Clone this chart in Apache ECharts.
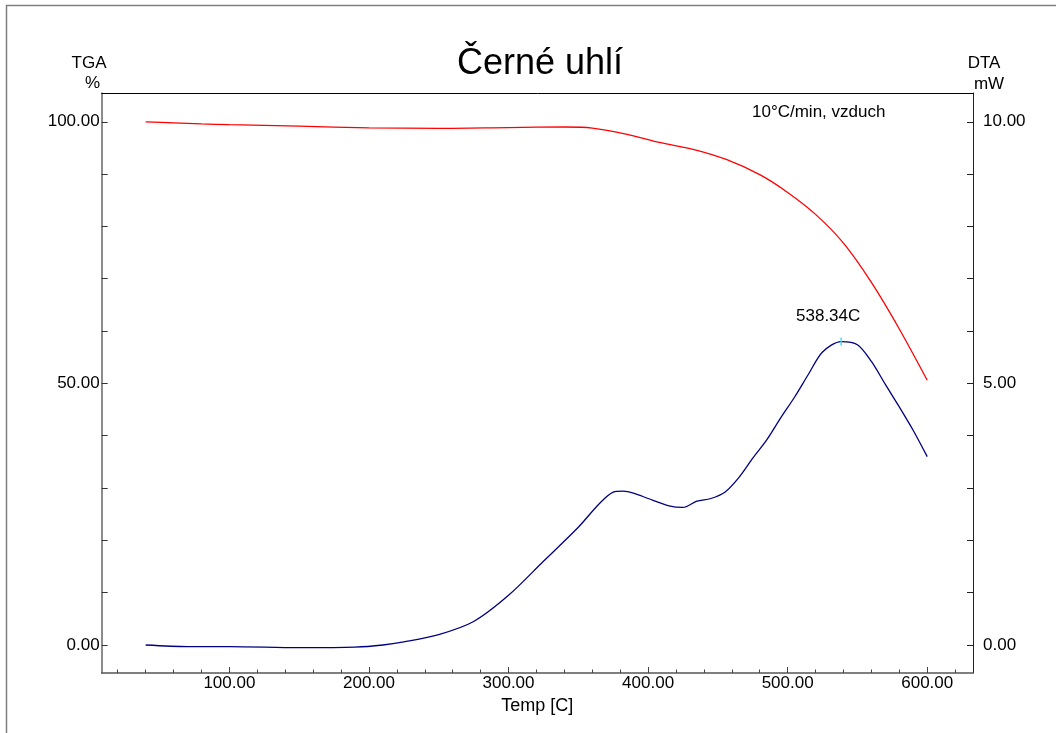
<!DOCTYPE html>
<html>
<head>
<meta charset="utf-8">
<title>Černé uhlí – TGA / DTA</title>
<script src="https://cdn.jsdelivr.net/npm/echarts@6/dist/echarts.min.js"></script>
<style>
  html, body { margin: 0; padding: 0; background: #fff; }
  #chart { width: 1056px; height: 733px; }
</style>
</head>
<body>
<div id="chart"></div>
<script>
// Thermogravimetry (red, %) and differential thermal analysis (blue, mW) vs temperature
var tgaTemp  = [40, 60, 80, 100, 150, 200, 250, 300, 340, 360, 385, 409, 433, 456, 480, 500, 520, 540, 560, 580, 600];
var tgaValue = [100.0, 99.8, 99.6, 99.45, 99.15, 98.85, 98.75, 98.9, 99.0, 98.8, 97.6, 96.0, 94.7, 92.8, 89.9, 86.5, 82.3, 76.8, 69.3, 60.4, 50.6];

var dtaTemp  = [40, 70, 100, 150, 190, 210, 225, 250, 275, 300, 325, 350, 365, 375, 382, 390, 400, 415, 425, 435, 445, 455, 465, 475, 485, 495, 505, 515, 525, 538.34, 550, 560, 570, 580, 590, 600];
var dtaValue = [0.0, -0.03, -0.03, -0.05, -0.04, 0.0, 0.06, 0.2, 0.45, 0.95, 1.6, 2.25, 2.7, 2.92, 2.94, 2.9, 2.8, 2.66, 2.63, 2.75, 2.8, 2.92, 3.2, 3.57, 3.92, 4.34, 4.74, 5.18, 5.6, 5.8, 5.74, 5.42, 4.98, 4.55, 4.1, 3.6];

// DTA peak
var peakTemp = 538.34;
var peakValue = 5.8;
var peakLabel = '538.34C';

// Tick positions and labels
var xMajorTicks = [100, 200, 300, 400, 500, 600];
var xMinorTicks = [20, 40, 60, 80, 100, 120, 140, 160, 180, 200, 220, 240, 260, 280, 300, 320, 340, 360, 380, 400, 420, 440, 460, 480, 500, 520, 540, 560, 580, 600, 620];
var tgaLabelTicks = [0, 50, 100];
var tgaTicks = [0, 10, 20, 30, 40, 50, 60, 70, 80, 90, 100];
var dtaLabelTicks = [0, 5, 10];
var dtaTicks = [0, 1, 2, 3, 4, 5, 6, 7, 8, 9, 10];

var FONT = 'Liberation Sans, Arial, sans-serif';

function pairs(xs, ys) {
  return xs.map(function (x, i) { return [x, ys[i]]; });
}
function fmt2(v) { return Number(v).toFixed(2); }

var chart = echarts.init(document.getElementById('chart'), null, { renderer: 'canvas' });

var X_MIN = 8.5, X_MAX = 632.8;

chart.setOption({
  animation: false,
  backgroundColor: '#ffffff',
  textStyle: { fontFamily: FONT },
  grid: {
    left: 101.7, right: 83, top: 93, bottom: 60,
    containLabel: false,
    outerBoundsMode: 'none'
  },
  graphic: [
    {
      type: 'rect', silent: true, z: 0,
      shape: { x: 6.5, y: 5.5, width: 1100, height: 800 },
      style: { fill: 'none', stroke: '#7f7f7f', lineWidth: 1.5 }
    },
    {
      type: 'text', x: 540, y: 64, silent: true,
      style: { text: 'Černé uhlí', font: '36px ' + FONT, fill: '#000', align: 'center', verticalAlign: 'middle' }
    },
    {
      type: 'text', x: 89, y: 63, silent: true,
      style: { text: 'TGA', font: '17px ' + FONT, fill: '#000', align: 'center', verticalAlign: 'middle' }
    },
    {
      type: 'text', x: 92.5, y: 83, silent: true,
      style: { text: '%', font: '17px ' + FONT, fill: '#000', align: 'center', verticalAlign: 'middle' }
    },
    {
      type: 'text', x: 984, y: 63, silent: true,
      style: { text: 'DTA', font: '17px ' + FONT, fill: '#000', align: 'center', verticalAlign: 'middle' }
    },
    {
      type: 'text', x: 989, y: 84, silent: true,
      style: { text: 'mW', font: '17px ' + FONT, fill: '#000', align: 'center', verticalAlign: 'middle' }
    },
    {
      type: 'text', x: 752, y: 112, silent: true,
      style: { text: '10°C/min, vzduch', font: '17px ' + FONT, fill: '#000', align: 'left', verticalAlign: 'middle' }
    }
  ],
  xAxis: [
    {
      type: 'value', position: 'bottom', min: X_MIN, max: X_MAX,
      axisLine: { show: true, onZero: false, lineStyle: { color: '#555', width: 1.5 } },
      axisTick: { show: true, inside: true, length: 6, customValues: xMajorTicks, lineStyle: { color: '#444', width: 1 } },
      axisLabel: { show: true, customValues: xMajorTicks, formatter: fmt2, margin: 2, fontSize: 17, color: '#000', fontFamily: FONT },
      splitLine: { show: false },
      name: 'Temp [C]', nameLocation: 'middle', nameGap: 20,
      nameTextStyle: { fontSize: 18, color: '#000', fontFamily: FONT }
    },
    {
      type: 'value', position: 'bottom', min: X_MIN, max: X_MAX,
      axisLine: { show: false, onZero: false },
      axisTick: { show: true, inside: true, length: 3.5, customValues: xMinorTicks, lineStyle: { color: '#444', width: 1 } },
      axisLabel: { show: false },
      splitLine: { show: false }
    },
    {
      type: 'value', position: 'top', min: X_MIN, max: X_MAX,
      axisLine: { show: true, onZero: false, lineStyle: { color: '#000', width: 1 } },
      axisTick: { show: false },
      axisLabel: { show: false },
      splitLine: { show: false }
    }
  ],
  yAxis: [
    {
      type: 'value', position: 'left', min: -5.35, max: 105.5,
      axisLine: { show: true, onZero: false, lineStyle: { color: '#666', width: 1.5 } },
      axisTick: { show: true, inside: true, length: 6, customValues: tgaTicks, lineStyle: { color: '#333', width: 1 } },
      axisLabel: { show: true, customValues: tgaLabelTicks, formatter: fmt2, margin: 2, fontSize: 17, color: '#000', fontFamily: FONT },
      splitLine: { show: false }
    },
    {
      type: 'value', position: 'right', min: -0.535, max: 10.55,
      axisLine: { show: true, onZero: false, lineStyle: { color: '#222', width: 1 } },
      axisTick: { show: true, inside: true, length: 6, customValues: dtaTicks, lineStyle: { color: '#222', width: 1 } },
      axisLabel: { show: true, customValues: dtaLabelTicks, formatter: fmt2, margin: 10, fontSize: 17, color: '#000', fontFamily: FONT },
      splitLine: { show: false }
    }
  ],
  series: [
    {
      name: 'TGA', type: 'line', xAxisIndex: 0, yAxisIndex: 0,
      data: pairs(tgaTemp, tgaValue),
      smooth: 0.3, showSymbol: false,
      lineStyle: { color: '#ff0000', width: 1.3 },
      itemStyle: { color: '#ff0000' }
    },
    {
      name: 'DTA', type: 'line', xAxisIndex: 0, yAxisIndex: 1,
      data: pairs(dtaTemp, dtaValue),
      smooth: 0.3, showSymbol: false,
      lineStyle: { color: '#000080', width: 1.3 },
      itemStyle: { color: '#000080' }
    },
    {
      name: 'DTA peak', type: 'scatter', xAxisIndex: 0, yAxisIndex: 1,
      data: [[peakTemp, peakValue]],
      symbol: 'rect', symbolSize: [1.5, 8], z: 5,
      itemStyle: { color: '#33e6f0', opacity: 1 },
      label: {
        show: true, position: 'top', distance: 12.5, offset: [-13, 0],
        formatter: peakLabel, fontSize: 17, color: '#000', fontFamily: FONT
      }
    }
  ]
});
</script>
</body>
</html>
